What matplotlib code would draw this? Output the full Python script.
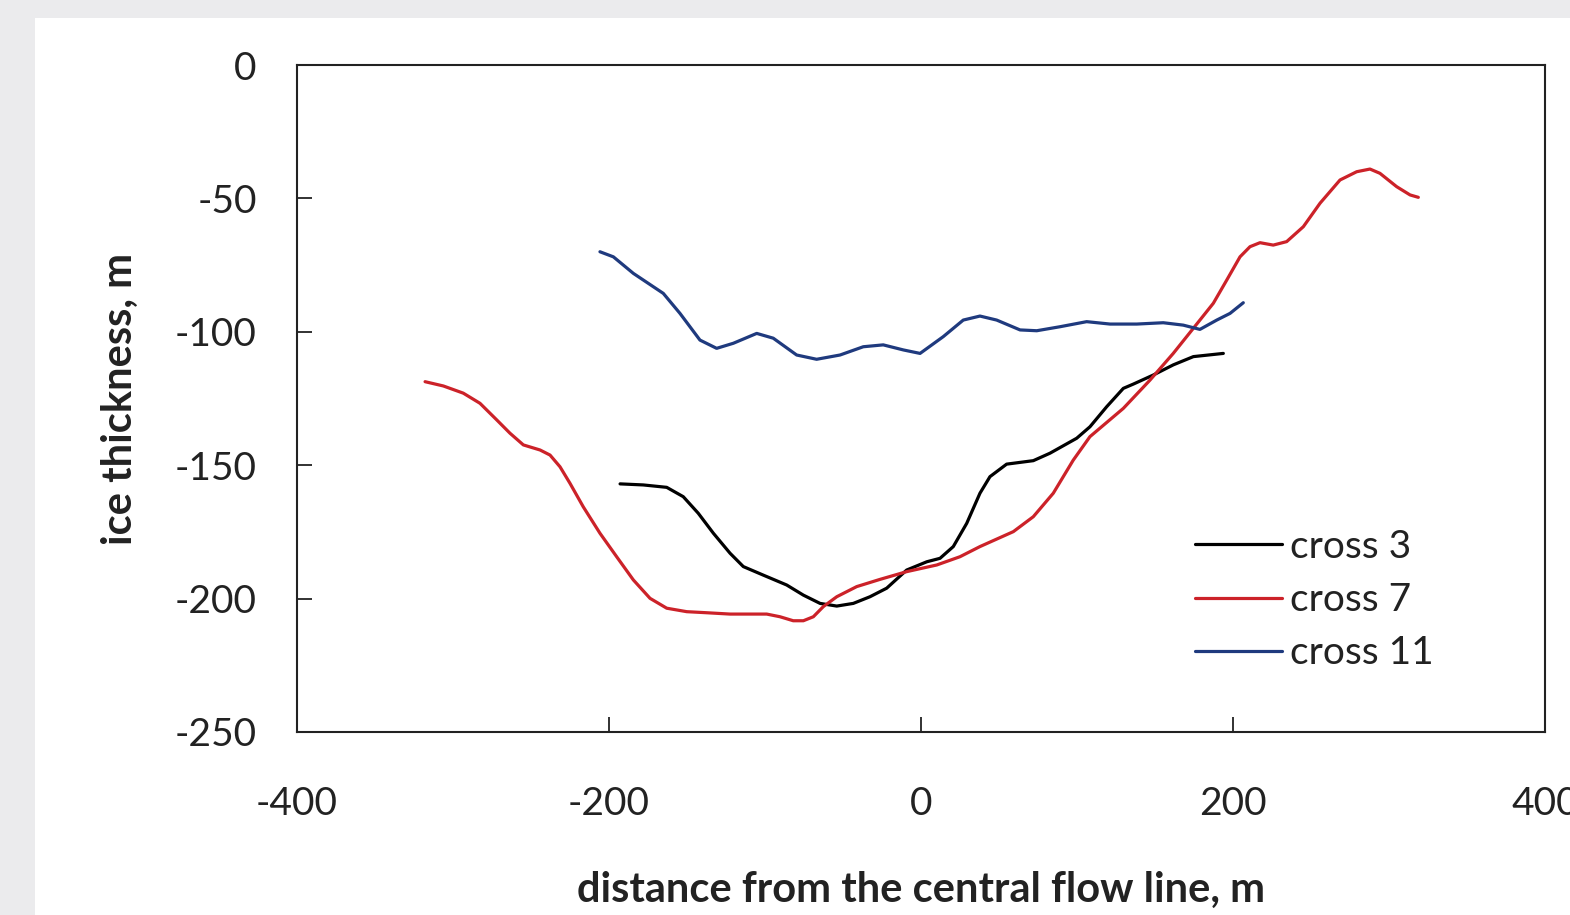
import matplotlib
matplotlib.use("Agg")
import matplotlib.pyplot as plt
from matplotlib.patches import Rectangle

plt.rcParams['font.family'] = ['Lato', 'DejaVu Sans']

# Cross-section profiles: distance from the central flow line (m) vs ice thickness (m)
cross3_x = [-192.9, -178.0, -163.0, -152.4, -142.8, -133.1, -122.4, -113.9, -101.1, -86.1,
            -75.4, -64.7, -54.0, -43.4, -32.7, -22.0, -9.2, 3.7, 12.2, 20.7,
            29.3, 37.8, 44.2, 54.9, 72.0, 82.7, 99.8, 108.3, 119.0, 129.7,
            136.1, 148.9, 161.7, 174.6, 193.8]
cross3_y = [-157.0, -157.4, -158.3, -161.8, -168.0, -175.5, -183.0, -188.0, -191.2, -194.9,
            -198.7, -201.8, -202.8, -201.8, -199.3, -196.1, -189.3, -186.2, -184.9, -180.5,
            -171.8, -160.5, -154.3, -149.6, -148.3, -145.5, -139.9, -135.6, -128.1, -121.2,
            -119.6, -116.2, -112.4, -109.3, -108.1]

cross7_x = [-317.9, -306.2, -293.4, -282.7, -272.0, -263.5, -254.9, -244.2, -237.8, -231.4,
            -225.0, -216.5, -205.8, -195.1, -184.4, -173.7, -163.0, -150.2, -137.4, -122.4,
            -98.9, -90.4, -81.9, -75.4, -69.0, -62.6, -54.0, -41.2, -26.3, -9.2,
            10.1, 25.0, 37.8, 59.2, 72.0, 84.8, 97.6, 108.3, 129.7, 146.8,
            161.7, 178.8, 187.4, 196.0, 204.5, 210.9, 217.3, 225.8, 234.4, 245.1,
            255.8, 268.6, 279.3, 287.8, 294.2, 304.9, 313.5, 318.8]
cross7_y = [-118.7, -120.3, -123.0, -126.8, -133.0, -138.0, -142.4, -144.3, -146.2, -150.6,
            -156.8, -165.6, -175.5, -184.3, -193.0, -199.9, -203.6, -204.9, -205.3, -205.8,
            -205.8, -206.8, -208.3, -208.3, -206.8, -203.0, -199.3, -195.5, -192.8, -189.9,
            -187.4, -184.3, -180.5, -174.9, -169.3, -160.5, -148.1, -139.3, -128.7, -118.1,
            -108.1, -95.6, -89.3, -80.6, -71.9, -68.1, -66.6, -67.5, -66.2, -60.6,
            -51.8, -43.1, -40.0, -39.0, -40.6, -45.6, -48.7, -49.6]

cross11_x = [-205.8, -197.2, -184.4, -165.2, -154.5, -141.7, -131.0, -120.3, -105.3, -94.7,
             -79.7, -66.9, -51.9, -37.0, -24.2, -11.3, -0.6, 14.3, 27.1, 37.8,
             48.5, 63.5, 74.2, 89.1, 106.2, 121.2, 138.3, 155.3, 168.1, 178.8,
             189.6, 198.1, 206.6]
cross11_y = [-70.0, -71.9, -78.1, -85.6, -93.1, -103.1, -106.2, -104.3, -100.6, -102.4,
             -108.7, -110.3, -108.7, -105.6, -104.9, -106.8, -108.1, -101.8, -95.6, -94.1,
             -95.6, -99.3, -99.6, -98.1, -96.2, -97.1, -97.1, -96.6, -97.5, -99.1,
             -95.6, -93.1, -89.1]

series_labels = ['cross 3', 'cross 7', 'cross 11']
series_colors = ['#000000', '#cc2229', '#1f3a7e']

x_ticks = [-400, -200, 0, 200, 400]
y_ticks = [0, -50, -100, -150, -200, -250]

fig = plt.figure(figsize=(15.7, 9.15), dpi=100)
fig.patch.set_facecolor('#ebebed')
fig.patches.append(Rectangle((35 / 1570, 0), 1.0, (915 - 18) / 915,
                             transform=fig.transFigure, facecolor='white',
                             edgecolor='none', zorder=-10))

ax = fig.add_axes([297 / 1570, 1 - 732 / 915, (1545 - 297) / 1570, (732 - 65) / 915])
ax.set_zorder(2)
ax.set_facecolor('white')

for xs, ys, lab, col in zip([cross3_x, cross7_x, cross11_x],
                            [cross3_y, cross7_y, cross11_y],
                            series_labels, series_colors):
    ax.plot(xs, ys, color=col, lw=2.3, label=lab,
            solid_joinstyle='round', solid_capstyle='round')

ax.set_xlim(-400, 400)
ax.set_ylim(-250, 0)
ax.set_xticks(x_ticks)
ax.set_yticks(y_ticks)
ax.set_xticklabels([str(v) for v in x_ticks])
ax.set_yticklabels([str(v) for v in y_ticks])

for s in ax.spines.values():
    s.set_linewidth(1.5)
    s.set_color('#222222')

ax.tick_params(axis='both', direction='in', length=11, width=1.3, labelsize=28,
               color='#222222', labelcolor='#222222')
ax.tick_params(axis='x', pad=39)
ax.tick_params(axis='y', pad=29)

ax.set_xlabel('distance from the central flow line, m', fontsize=30,
              fontweight='bold', labelpad=35, color='#222222')
ax.set_ylabel('ice thickness, m', fontsize=30, fontweight='bold',
              labelpad=26, color='#222222')

leg = ax.legend(loc='upper left', bbox_to_anchor=((1195 - 297) / 1248, 1 - (529 - 65) / 667),
                frameon=False, fontsize=28, handlelength=2.24, handletextpad=0.2,
                labelspacing=0.44, borderaxespad=0, borderpad=0)
for t in leg.get_texts():
    t.set_color('#222222')

fig.savefig('out.png', dpi=100, facecolor=fig.get_facecolor())
